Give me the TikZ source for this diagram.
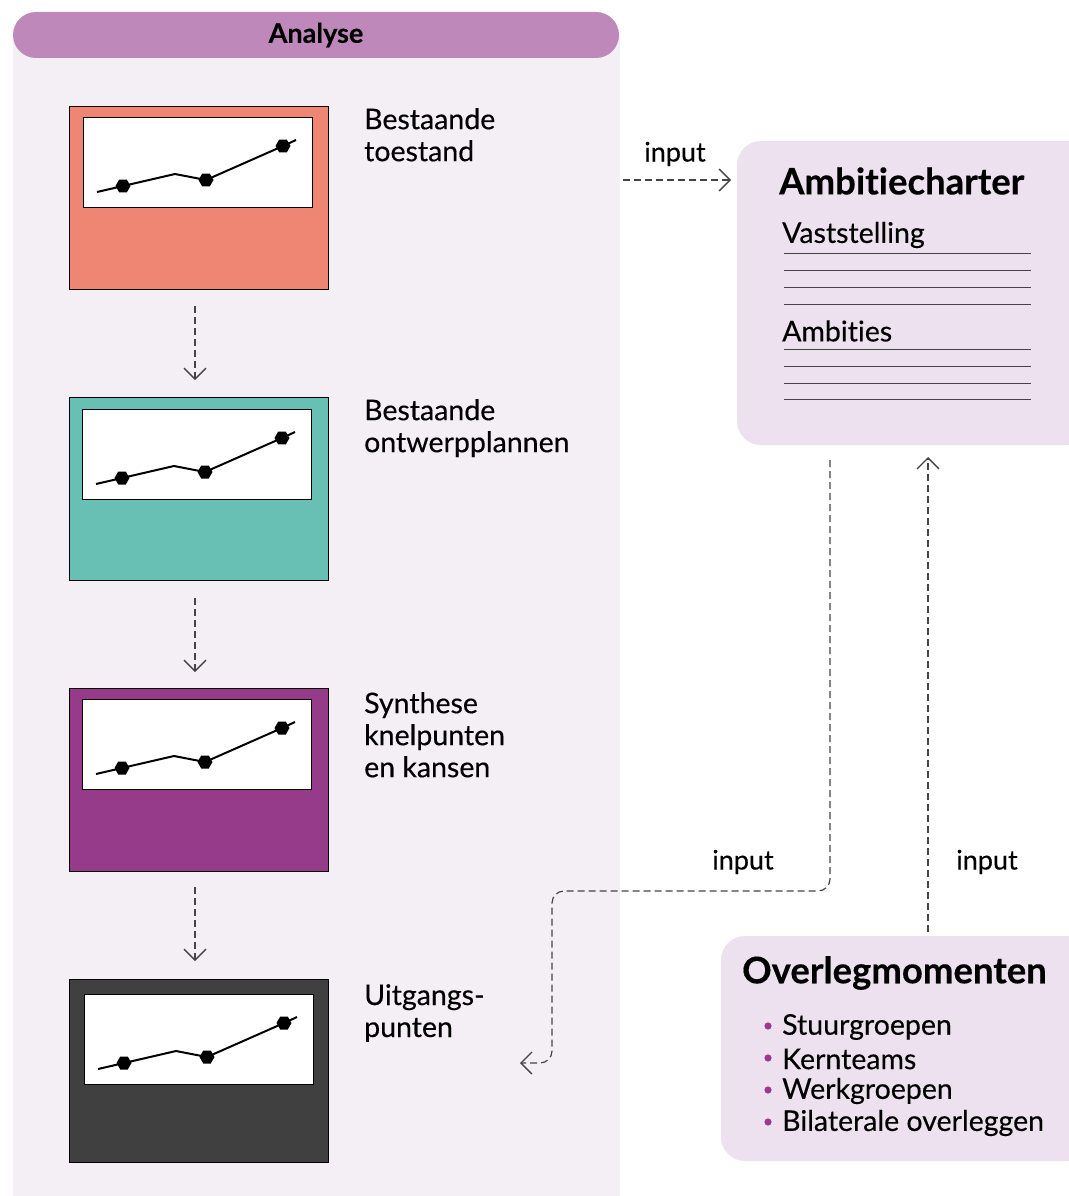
\documentclass[tikz,border=0pt]{standalone}
\usepackage{fontspec}
\setmainfont{Lato}[FakeBold=0.3,Ligatures=NoCommon,RawFeature=-calt,RawFeature=-dlig]
\usetikzlibrary{arrows.meta}
\definecolor{panel}{HTML}{F4EFF5}
\definecolor{pill}{HTML}{BE88BB}
\definecolor{salmon}{HTML}{EF8573}
\definecolor{teal}{HTML}{68C0B5}
\definecolor{plum}{HTML}{963A8A}
\definecolor{darkgr}{HTML}{404040}
\definecolor{lilac}{HTML}{EDE1EF}
\definecolor{dash}{HTML}{444444}
\definecolor{bul}{HTML}{9B3A8E}
\tikzset{
  colbox/.style={draw=black,line width=0.9pt,minimum width=259pt,minimum height=183pt,inner sep=0pt},
  lbl/.style={anchor=north west,align=left,inner sep=0pt,font=\fontsize{28.5}{32}\selectfont},
  inp/.style={inner sep=0pt,font=\fontsize{27}{30}\selectfont},
  flow/.style={draw=dash,line width=1.2pt,dash pattern=on 7pt off 4pt},
  tip/.style={-{Straight Barb[length=11pt,width=22pt,line width=1.3pt]}},
  card/.style={fill=lilac,rounded corners=24pt,inner sep=0pt},
  rule/.style={draw=dash,line width=0.9pt},
  itm/.style={anchor=west,inner sep=0pt,font=\fontsize{28.5}{32}\selectfont}
}
\newcommand\minichart[4]{% x0 y0 dx_inner dy_inner
  \begin{scope}[shift={(#1,#2)}]
    \fill[white] (14+#3,11+#4) rectangle (243+#3,101+#4);
    \draw[line width=0.9pt] (14+#3,11+#4) rectangle (243+#3,101+#4);
    \draw[line width=2pt] (28+#3,86+#4) -- (54+#3,80+#4) -- (106+#3,68+#4) -- (137+#3,74+#4) -- (214+#3,40+#4) -- (227+#3,34+#4);
    \foreach \px/\py in {54/80,137/74,214/40}{
      \fill (\px+#3,\py+#4) +(0:7.5) -- +(60:7.5) -- +(120:7.5) -- +(180:7.5) -- +(240:7.5) -- +(300:7.5) -- cycle;
    }
  \end{scope}}
\begin{document}
\begin{tikzpicture}[x=1pt,y=-1pt]
\useasboundingbox (0,0) rectangle (1068,1196);
\fill[white] (0,0) rectangle (1068,1196);
% panel
\fill[panel] (13,35) rectangle (620,1196);
\node[fill=pill,rounded corners=23pt,minimum width=606pt,minimum height=46pt,inner sep=0pt,font=\fontsize{27}{30}\selectfont\bfseries] (hdr) at (316,35) {Analyse};
% boxes
\node[colbox,fill=salmon] (b1) at (198.5,197.5) {};
\node[colbox,fill=teal] (b2) at (198.5,488.5) {};
\node[colbox,fill=plum] (b3) at (198.5,779.5) {};
\node[colbox,fill=darkgr] (b4) at (198.5,1070.5) {};
\minichart{69}{106}{0}{0}
\minichart{69}{397}{-1}{1}
\minichart{69}{688}{-1}{0}
\minichart{69}{979}{1}{4}
% labels
\node[lbl] (l1) at (364,108) {Bestaande\\toestand};
\node[lbl] (l2) at (364,399) {Bestaande\\ontwerpplannen};
\node[lbl] (l3) at (364,692) {Synthese\\knelpunten\\en kansen};
\node[lbl] (l4) at (364,984) {Uitgangs-\\punten};
% vertical arrows
\coordinate (a1s) at (195,306); \coordinate (a1e) at (195,380);
\coordinate (a2s) at (195,598); \coordinate (a2e) at (195,672);
\coordinate (a3s) at (195,887); \coordinate (a3e) at (195,961);
\draw[flow,tip] (a1s) -- (a1e);
\draw[flow,tip] (a2s) -- (a2e);
\draw[flow,tip] (a3s) -- (a3e);
% Ambitiecharter
\fill[card] (737,141) rectangle (1092,445);
\node (amb) at (903,293) {};
\node[anchor=west,inner sep=0pt,font=\fontsize{36.5}{40}\selectfont\bfseries] (ambt) at (779,181) {Ambitiecharter};
\node[itm] (vast) at (782,235) {Vaststelling};
\node[itm] (ambi) at (782,331) {Ambities};
\foreach \yy in {253,270,287,304,349,366,383,399}{\draw[rule] (784,\yy) -- (1031,\yy);}
% input arrow top
\coordinate (i1s) at (623,180); \coordinate (i1e) at (731,180);
\draw[flow,tip] (i1s) -- (i1e);
\node[inp] (inp1) at (675,154) {input};
% Overlegmomenten
\fill[card] (721,936) rectangle (1092,1161);
\node[anchor=west,inner sep=0pt,font=\fontsize{36.5}{40}\selectfont\bfseries] (ovt) at (742,973) {Overlegmomenten};
\foreach \yy/\tx [count=\i] in {1027/Stuurgroepen,1059/Kernteams,1091/Werkgroepen,1123/Bilaterale overleggen}{
  \fill[bul] (768,\yy-1) circle (3.6pt);
  \node[itm] (ov\i) at (782,\yy) {\tx};
}
% flows
\coordinate (fs) at (830,460);
\coordinate (fe) at (520,1063);
\draw[flow,tip,rounded corners=12pt] (fs) -- (830,891) -- (552,891) -- (552,1063) -- (fe);
\node[inp] (inp2) at (743,862) {input};
\coordinate (us) at (928,932);
\coordinate (ue) at (928,457);
\draw[flow,tip] (us) -- (ue);
\node[inp] (inp3) at (987,862) {input};
\end{tikzpicture}
\end{document}
